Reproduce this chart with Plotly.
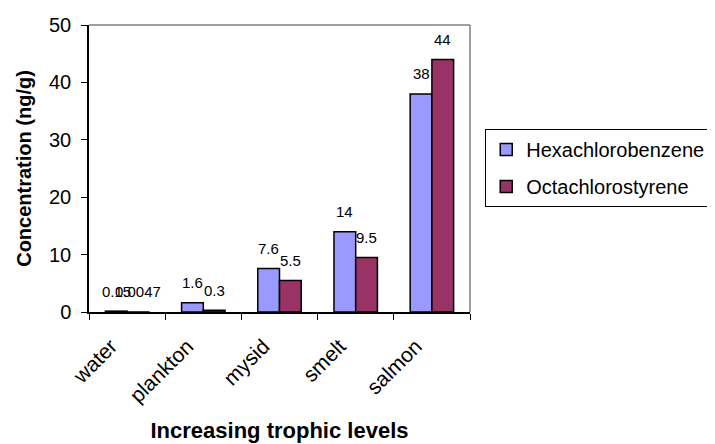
import plotly.graph_objects as go

categories = ["water", "plankton", "mysid", "smelt", "salmon"]
hexachlorobenzene = [0.15, 1.6, 7.6, 14, 38]
octachlorostyrene = [0.0047, 0.3, 5.5, 9.5, 44]
hex_labels = ["0.15", "1.6", "7.6", "14", "38"]
oct_labels = ["0.0047", "0.3", "5.5", "9.5", "44"]
y_ticks = [0, 10, 20, 30, 40, 50]

FONT = "Liberation Sans, Arial, sans-serif"

fig = go.Figure()
fig.add_trace(go.Bar(
    x=categories, y=hexachlorobenzene, name="Hexachlorobenzene",
    marker=dict(color="#9999FF", line=dict(color="black", width=1.5)),
    legendgroup="a",
))
fig.add_trace(go.Bar(
    x=categories, y=octachlorostyrene, name="Octachlorostyrene",
    marker=dict(color="#993366", line=dict(color="black", width=1.5)),
    legendgroup="b",
))

annotations = []
for cat, v, t in zip(categories, hexachlorobenzene, hex_labels):
    annotations.append(dict(x=cat, y=v, text=t, showarrow=False, xshift=-10.8, yshift=20,
                            yanchor="middle", xanchor="center",
                            font=dict(family=FONT, size=15, color="black")))
for cat, v, t in zip(categories, octachlorostyrene, oct_labels):
    annotations.append(dict(x=cat, y=v, text=t, showarrow=False, xshift=10.8, yshift=20,
                            yanchor="middle", xanchor="center",
                            font=dict(family=FONT, size=15, color="black")))

fig.update_layout(
    width=715, height=444,
    margin=dict(l=81, r=253, t=17, b=140, autoexpand=False),
    paper_bgcolor="white", plot_bgcolor="white",
    font=dict(family=FONT, size=20, color="black"),
    barmode="group", bargap=0.43, bargroupgap=0,
    showlegend=True,
    legend=dict(
        x=1.04, y=0.638, xanchor="left", yanchor="top",
        bordercolor="black", borderwidth=1, bgcolor="white",
        font=dict(family=FONT, size=20, color="black"),
        tracegroupgap=8,
    ),
    annotations=annotations,
    shapes=[
        dict(type="line", xref="paper", yref="paper", x0=0, x1=1, y0=1, y1=1,
             line=dict(color="#808080", width=1.5)),
        dict(type="line", xref="paper", yref="paper", x0=1, x1=1, y0=0, y1=1,
             line=dict(color="#808080", width=1.5)),
    ],
)

fig.update_xaxes(
    automargin=False,
    showline=True, linecolor="black", linewidth=1.5,
    ticks="outside", tickson="boundaries", ticklen=6, tickcolor="black",
    tickangle=-45, showgrid=False,
    ticklabelstandoff=12, ticklabelshift=-16,
    tickfont=dict(family=FONT, size=21),
    title=dict(text="<b>Increasing trophic levels</b>", font=dict(family=FONT, size=22), standoff=17),
)
fig.update_yaxes(
    automargin=False,
    range=[0, 50], tickvals=y_ticks,
    showline=True, linecolor="black", linewidth=1.5,
    ticks="outside", ticklen=6, tickcolor="black",
    showgrid=False, zeroline=False,
    ticklabelstandoff=6,
    tickfont=dict(family=FONT, size=20),
    title=dict(text="<b>Concentration (ng/g)</b>", font=dict(family=FONT, size=20), standoff=12),
)

fig.write_html("out.html")
